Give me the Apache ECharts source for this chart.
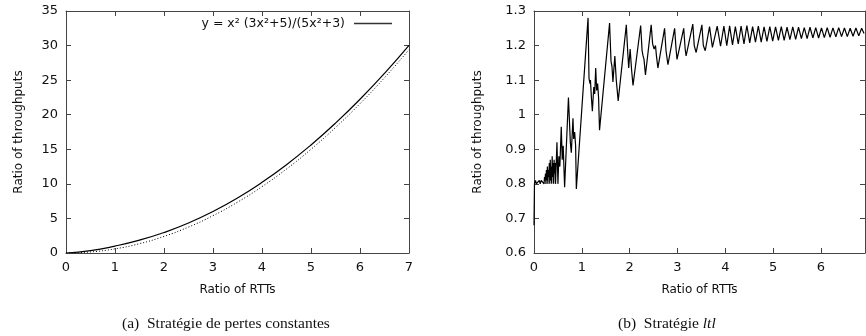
<!DOCTYPE html>
<html>
<head>
<meta charset="utf-8">
<script src="https://cdn.jsdelivr.net/npm/echarts@6/dist/echarts.min.js"></script>
<style>
  html, body { margin: 0; padding: 0; background: #fff; }
  #chart { width: 866px; height: 336px; }
</style>
</head>
<body>
<div id="chart"></div>
<script>
// (a) constant-loss strategy: model curve (solid) and measured (dotted)
const rttX = [0, 0.5, 1, 1.5, 2, 2.5, 3, 3.5, 4, 4.5, 5, 5.5, 6, 6.5, 7];
const modelY = [0, 0.34, 1, 1.86, 2.96, 4.33, 6, 7.96, 10.22, 12.77, 15.63, 18.78, 22.23, 25.98, 30.03];
const measuredY = [0, 0.15, 0.6, 1.35, 2.4, 3.75, 5.4, 7.35, 9.6, 12.15, 15, 18.15, 21.6, 25.35, 29.4];
const modelName = "y = x² (3x²+5)/(5x²+3)";

// (b) ltl strategy
const ltlX = [
  0, 0.01, 0.03, 0.05, 0.07, 0.09, 0.11, 0.13, 0.15, 0.17, 0.19, 0.21, 0.22, 0.23, 0.24, 0.25,
  0.26, 0.27, 0.28, 0.29, 0.3, 0.31, 0.32, 0.33, 0.34, 0.35, 0.36, 0.37, 0.38, 0.39, 0.4, 0.41,
  0.42, 0.43, 0.44, 0.45, 0.48, 0.5, 0.52, 0.54, 0.57, 0.59, 0.61, 0.64,
  0.72, 0.76, 0.78, 0.815, 0.83, 0.85, 0.87, 0.885,
  1.13, 1.15, 1.17, 1.18, 1.2, 1.22, 1.25, 1.27, 1.29, 1.31, 1.33, 1.35, 1.37,
  1.58, 1.61, 1.63, 1.65, 1.69, 1.72, 1.76,
  1.93, 1.96, 1.98, 2.01, 2.04, 2.07,
  2.23, 2.26, 2.28, 2.3, 2.33,
  2.45, 2.48, 2.51, 2.54, 2.56, 2.59,
  2.73, 2.76, 2.8, 2.94, 2.97, 2.99, 3.13, 3.16, 3.18, 3.32, 3.35, 3.39,
  3.51, 3.54, 3.58, 3.67, 3.73, 3.83, 3.9,
  3.97, 4.03, 4.09, 4.15, 4.21, 4.27, 4.33, 4.39, 4.45, 4.51, 4.57, 4.63, 4.69, 4.75, 4.81, 4.87,
  4.93, 4.99, 5.05, 5.11, 5.17, 5.23, 5.29, 5.35, 5.41, 5.47, 5.53, 5.59, 5.65, 5.71, 5.77, 5.83,
  5.89, 5.95, 6.01, 6.07, 6.13, 6.19, 6.25, 6.31, 6.37, 6.43, 6.49, 6.55, 6.61, 6.67, 6.73, 6.79,
  6.85, 6.9
];
const ltlY = [
  0.68, 0.8, 0.81, 0.8, 0.805, 0.8, 0.81, 0.8, 0.81, 0.805, 0.815, 0.8, 0.82, 0.81, 0.83, 0.8,
  0.84, 0.81, 0.85, 0.8, 0.84, 0.82, 0.86, 0.8, 0.87, 0.81, 0.85, 0.8, 0.88, 0.82, 0.86, 0.8,
  0.87, 0.83, 0.86, 0.8, 0.92, 0.8, 0.88, 0.85, 0.965, 0.87, 0.91, 0.79,
  1.05, 0.92, 0.89, 0.99, 0.93, 0.95, 0.91, 0.785,
  1.28, 1.105, 1.09, 1.1, 1.05, 1.01, 1.08, 1.06, 1.135, 1.07, 1.09, 1.05, 0.955,
  1.265, 1.155, 1.14, 1.095, 1.17, 1.1, 1.04,
  1.26, 1.18, 1.135, 1.19, 1.13, 1.085,
  1.258, 1.185, 1.17, 1.16, 1.115,
  1.26, 1.205, 1.19, 1.2, 1.17, 1.135,
  1.25, 1.185, 1.145, 1.25, 1.19, 1.16, 1.25, 1.19, 1.17, 1.262, 1.2, 1.18,
  1.26, 1.2, 1.185, 1.255, 1.195, 1.256, 1.198,
  1.256, 1.2, 1.257, 1.202, 1.255, 1.205, 1.256, 1.205, 1.258, 1.208, 1.255, 1.21, 1.256, 1.21, 1.254, 1.212,
  1.255, 1.213, 1.254, 1.215, 1.255, 1.215, 1.253, 1.217, 1.254, 1.218, 1.253, 1.22, 1.252, 1.22, 1.253, 1.222,
  1.252, 1.222, 1.251, 1.223, 1.252, 1.224, 1.251, 1.225, 1.252, 1.226, 1.251, 1.226, 1.25, 1.227, 1.251, 1.228,
  1.25, 1.235
];

const sans = "DejaVu Sans";
const serif = "Liberation Serif";
const axisColor = "#444";
const textColor = "#111";

const chart = echarts.init(document.getElementById("chart"), null, { renderer: "canvas" });

// main axis (bottom / left) with labels, ticks pointing inward
function mainX(gridIndex, max, name) {
  return {
    type: "value", gridIndex, min: 0, max, interval: 1, position: "bottom",
    name, nameLocation: "middle", nameGap: 31,
    nameTextStyle: { fontFamily: sans, fontSize: 12, color: textColor },
    axisLine: { onZero: false, lineStyle: { color: axisColor, width: 1 } },
    axisTick: { inside: true, length: 5, lineStyle: { color: axisColor } },
    axisLabel: { fontFamily: sans, fontSize: 13, color: textColor, margin: 8, showMaxLabel: max === 7 },
    splitLine: { show: false },
  };
}
function mainY(gridIndex, min, max, interval, name, gap) {
  return {
    type: "value", gridIndex, min, max, interval, position: "left",
    name, nameLocation: "middle", nameGap: gap,
    nameTextStyle: { fontFamily: sans, fontSize: 12, color: textColor },
    axisLine: { onZero: false, lineStyle: { color: axisColor, width: 1 } },
    axisTick: { inside: true, length: 5, lineStyle: { color: axisColor } },
    axisLabel: { fontFamily: sans, fontSize: 13, color: textColor, margin: 8 },
    splitLine: { show: false },
  };
}
// mirror axis (top / right): ticks only
function mirror(axis, position) {
  return Object.assign({}, axis, {
    position, name: "",
    axisLabel: { show: false },
  });
}

const x0 = mainX(0, 7, "Ratio of RTTs");
const y0 = mainY(0, 0, 35, 5, "Ratio of throughputs", 41);
const x1 = mainX(1, 6.92, "Ratio of RTTs");
const y1 = mainY(1, 0.6, 1.3, 0.1, "Ratio of throughputs", 50);

const option = {
  animation: false,
  backgroundColor: "#fff",
  grid: [
    { left: 66, right: 457, top: 11, bottom: 83 },
    { left: 534, right: 1, top: 11, bottom: 83 },
  ],
  title: [
    {
      text: "(a)  Stratégie de pertes constantes",
      left: 117, top: 311,
      textStyle: { fontFamily: serif, fontSize: 15.5, fontWeight: "normal", color: textColor },
    },
    {
      text: "(b)  Stratégie {i|ltl}",
      left: 613, top: 311,
      textStyle: {
        fontFamily: serif, fontSize: 15.5, fontWeight: "normal", color: textColor,
        rich: { i: { fontFamily: serif, fontSize: 15.5, fontStyle: "italic", color: textColor } },
      },
    },
  ],
  legend: {
    data: [{ name: modelName, icon: "rect" }],
    right: 474, top: 17,
    align: "right",
    itemWidth: 38, itemHeight: 1.3, itemGap: 0,
    padding: 0,
    itemStyle: { color: "#333" },
    textStyle: { fontFamily: sans, fontSize: 12.5, color: textColor, padding: [0, 4, 0, 0] },
  },
  xAxis: [x0, mirror(x0, "top"), x1, mirror(x1, "top")],
  yAxis: [y0, mirror(y0, "right"), y1, mirror(y1, "right")],
  series: [
    {
      name: modelName, type: "line", xAxisIndex: 0, yAxisIndex: 0,
      smooth: true, showSymbol: false, symbol: "none",
      lineStyle: { color: "#000", width: 1.2 },
      itemStyle: { color: "#000" },
      data: rttX.map((x, i) => [x, modelY[i]]),
    },
    {
      name: "measured", type: "line", xAxisIndex: 0, yAxisIndex: 0,
      smooth: true, showSymbol: false, symbol: "none",
      lineStyle: { color: "#000", width: 1, type: [1, 2] },
      data: rttX.map((x, i) => [x, measuredY[i]]),
    },
    {
      name: "ltl", type: "line", xAxisIndex: 2, yAxisIndex: 2,
      showSymbol: false, symbol: "none",
      lineStyle: { color: "#000", width: 1.2 },
      data: ltlX.map((x, i) => [x, ltlY[i]]),
    },
  ],
};

chart.setOption(option);
</script>
</body>
</html>
